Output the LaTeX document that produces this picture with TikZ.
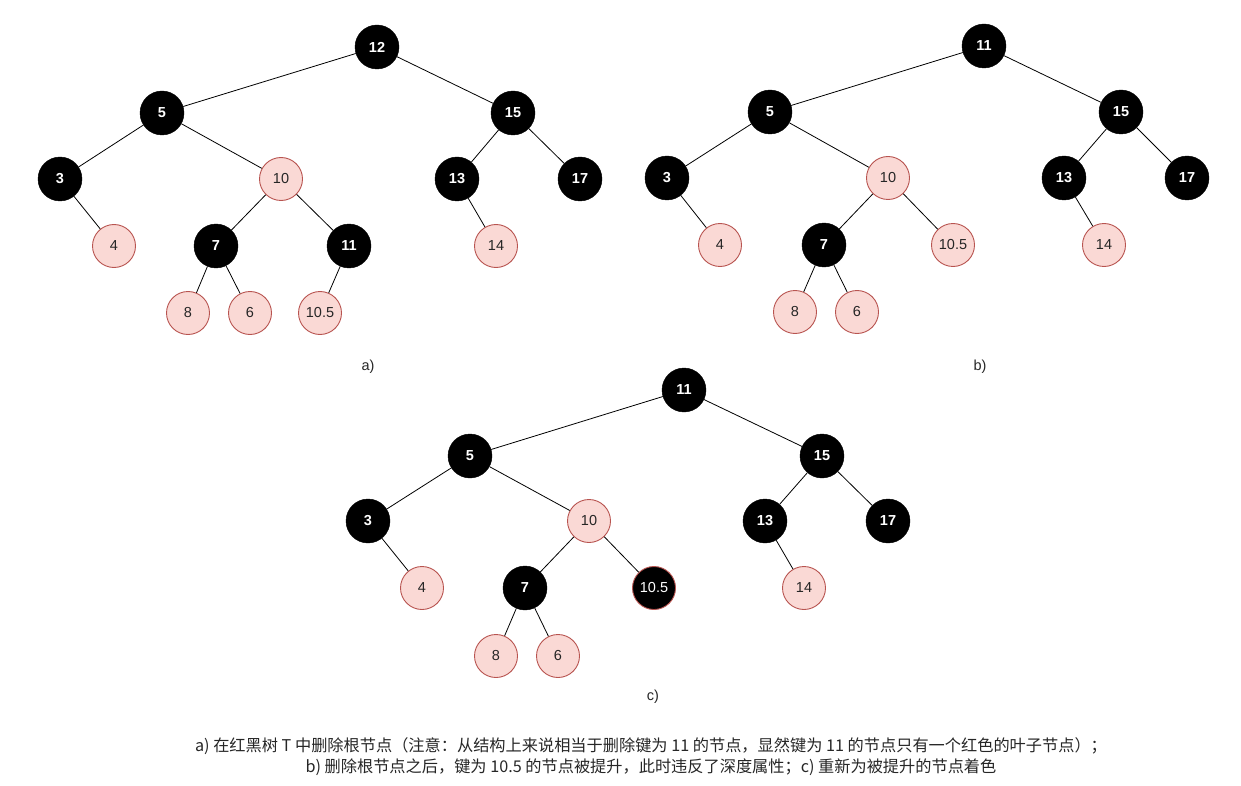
\documentclass[tikz,border=0pt]{standalone}
\usepackage{fontspec}
\setmainfont{Liberation Sans}
\newfontfamily\cjk{Noto Sans CJK SC}
\definecolor{rfill}{HTML}{FAD9D5}
\definecolor{rdraw}{HTML}{B85450}
\begin{document}
\begin{tikzpicture}[x=1pt,y=-1pt,
  bn/.style={circle,fill=black,draw=black,minimum size=44pt,inner sep=0pt,text=white,font=\fontsize{14.5}{16}\selectfont\bfseries},
  rn/.style={circle,fill=rfill,draw=rdraw,line width=0.9pt,minimum size=43pt,inner sep=0pt,text=black!85,font=\fontsize{14.5}{16}\selectfont},
  pn/.style={circle,fill=black,draw=rdraw,line width=0.9pt,minimum size=43pt,inner sep=0pt,text=white,font=\fontsize{14.5}{16}\selectfont},
  ed/.style={draw=black,line width=0.8pt},
  lab/.style={font=\fontsize{14.5}{16}\selectfont,text=black!85}]
\useasboundingbox (0,0) rectangle (1241,786);
% tree a
\node[bn] (a12) at (377,47) {12};
\node[bn] (a5) at (162,113) {5};
\node[bn] (a15) at (513,113) {15};
\node[bn] (a3) at (60,179) {3};
\node[rn] (a10) at (281,179) {10};
\node[bn] (a13) at (457,179) {13};
\node[bn] (a17) at (580,179) {17};
\node[rn] (a4) at (114,246) {4};
\node[bn] (a7) at (216,246) {7};
\node[bn] (a11) at (349,246) {11};
\node[rn] (a14) at (496,246) {14};
\node[rn] (a8) at (188,313) {8};
\node[rn] (a6) at (250,313) {6};
\node[rn] (a105) at (320,313) {10.5};
\node[lab] (la) at (368,367) {a)};
\foreach \p/\c in {a12/a5,a12/a15,a5/a3,a5/a10,a15/a13,a15/a17,a3/a4,a10/a7,a10/a11,a13/a14,a7/a8,a7/a6,a11/a105}
  \draw[ed] (\p) -- (\c);
% tree b
\node[bn] (b11) at (984,46) {11};
\node[bn] (b5) at (770,112) {5};
\node[bn] (b15) at (1121,112) {15};
\node[bn] (b3) at (667,178) {3};
\node[rn] (b10) at (888,178) {10};
\node[bn] (b13) at (1064,178) {13};
\node[bn] (b17) at (1187,178) {17};
\node[rn] (b4) at (720,245) {4};
\node[bn] (b7) at (824,245) {7};
\node[rn] (b105) at (953,245) {10.5};
\node[rn] (b14) at (1104,245) {14};
\node[rn] (b8) at (795,312) {8};
\node[rn] (b6) at (857,312) {6};
\node[lab] (lb) at (980,367) {b)};
\foreach \p/\c in {b11/b5,b11/b15,b5/b3,b5/b10,b15/b13,b15/b17,b3/b4,b10/b7,b10/b105,b13/b14,b7/b8,b7/b6}
  \draw[ed] (\p) -- (\c);
% tree c
\node[bn] (c11) at (684,390) {11};
\node[bn] (c5) at (470,456) {5};
\node[bn] (c15) at (822,456) {15};
\node[bn] (c3) at (368,521) {3};
\node[rn] (c10) at (589,521) {10};
\node[bn] (c13) at (765,521) {13};
\node[bn] (c17) at (888,521) {17};
\node[rn] (c4) at (422,588) {4};
\node[bn] (c7) at (525,588) {7};
\node[pn] (c105) at (654,588) {10.5};
\node[rn] (c14) at (804,588) {14};
\node[rn] (c8) at (496,656) {8};
\node[rn] (c6) at (558,656) {6};
\node[lab] (lc) at (653,697) {c)};
\foreach \p/\c in {c11/c5,c11/c15,c5/c3,c5/c10,c15/c13,c15/c17,c3/c4,c10/c7,c10/c105,c13/c14,c7/c8,c7/c6}
  \draw[ed] (\p) -- (\c);
% caption
\node[font=\cjk\fontsize{16.2}{21}\selectfont,text=black!85,align=center] (cap) at (651,757)
  {a) 在红黑树 T 中删除根节点（注意：从结构上来说相当于删除键为 11 的节点，显然键为 11 的节点只有一个红色的叶子节点）；\\
   b) 删除根节点之后，键为 10.5 的节点被提升，此时违反了深度属性；c) 重新为被提升的节点着色};
\end{tikzpicture}
\end{document}
